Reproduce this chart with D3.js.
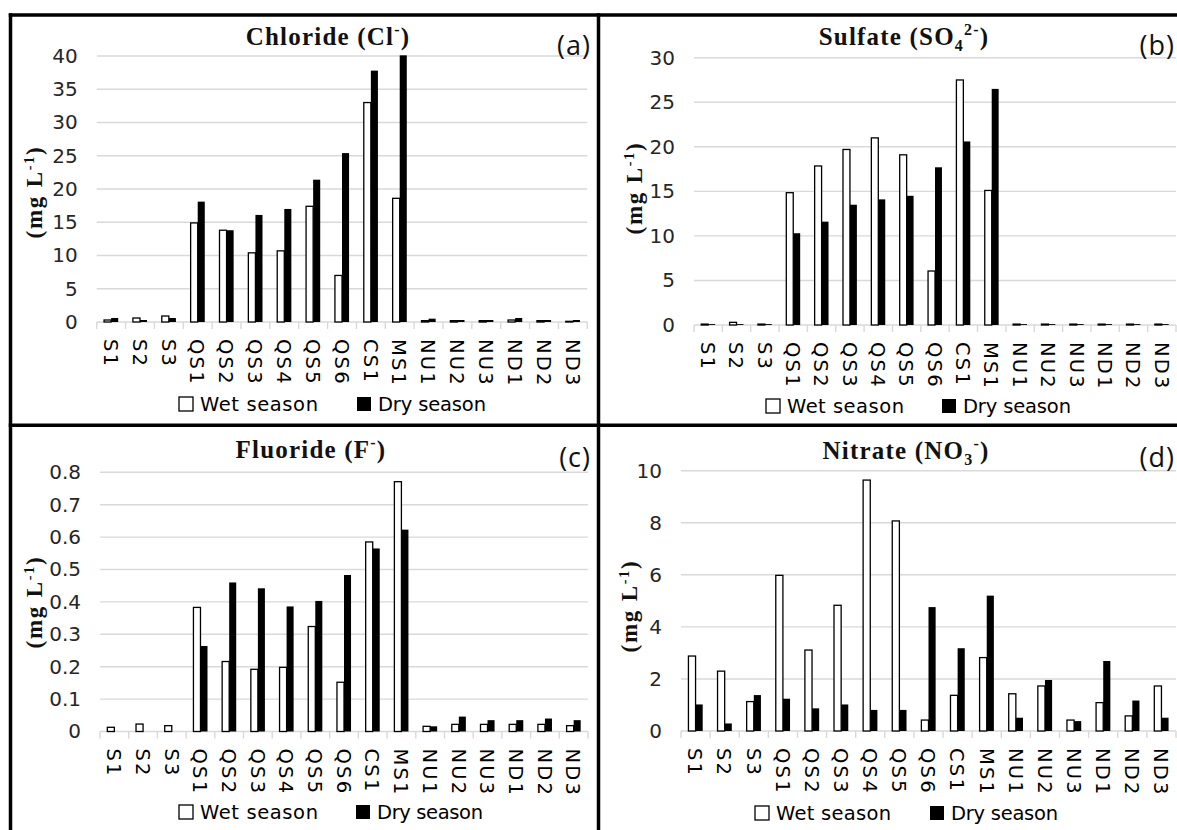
<!DOCTYPE html>
<html><head><meta charset="utf-8">
<script src="https://cdn.jsdelivr.net/npm/d3@7"></script>
<style>body{margin:0;background:#fff;} svg{display:block;}</style>
</head><body>
<svg id="chart" width="1177" height="830"></svg>
<script>
// ---------------- data ----------------
const categories = ["S1","S2","S3","QS1","QS2","QS3","QS4","QS5","QS6","CS1","MS1","NU1","NU2","NU3","ND1","ND2","ND3"];
const seasons = ["Wet season","Dry season"];

const chlorideWet = [0.3,0.6,0.9,14.9,13.8,10.4,10.7,17.4,7.0,33.0,18.6,0.2,0.2,0.2,0.3,0.2,0.1];
const chlorideDry = [0.6,0.3,0.6,18.1,13.8,16.1,17.0,21.4,25.4,37.8,40.1,0.5,0.3,0.3,0.6,0.3,0.3];

const sulfateWet = [0.1,0.3,0.1,14.85,17.85,19.7,21.0,19.1,6.06,27.5,15.1,0.1,0.1,0.1,0.1,0.1,0.1];
const sulfateDry = [0.1,0.1,0.1,10.3,11.6,13.5,14.1,14.5,17.7,20.6,26.5,0.1,0.1,0.1,0.1,0.1,0.1];

const fluorideWet = [0.013,0.023,0.018,0.383,0.216,0.192,0.198,0.324,0.152,0.585,0.771,0.016,0.022,0.022,0.022,0.022,0.018];
const fluorideDry = [0,0,0,0.264,0.46,0.442,0.386,0.403,0.483,0.565,0.623,0.016,0.046,0.035,0.035,0.04,0.035];

const nitrateWet = [2.88,2.30,1.13,5.98,3.11,4.83,9.64,8.07,0.42,1.37,2.82,1.43,1.73,0.42,1.09,0.58,1.73];
const nitrateDry = [1.02,0.29,1.38,1.24,0.87,1.02,0.81,0.81,4.76,3.18,5.20,0.51,1.96,0.38,2.69,1.17,0.51];

const chlorideTicks = [0,5,10,15,20,25,30,35,40];
const sulfateTicks = [0,5,10,15,20,25,30];
const fluorideTicks = [0,0.1,0.2,0.3,0.4,0.5,0.6,0.7,0.8];
const nitrateTicks = [0,2,4,6,8,10];

// ---------------- layout ----------------
const panels = [
  {letter:"(a)", wet:chlorideWet, dry:chlorideDry, ticks:chlorideTicks,
   title:[{t:"Chloride (Cl"},{t:"-",sup:true},{t:")"}],
   px0:96.7, px1:587.3, py0:322, pyTop:56, titleX:328, titleY:45, letterX:591, letterY:55,
   yTitleX:33.5, yTitleY:192, legY:404, wetBoxX:179, wetTextW:118, dryBoxX:357, dryTextW:108, fmt:d=>d},
  {letter:"(b)", wet:sulfateWet, dry:sulfateDry, ticks:sulfateTicks,
   title:[{t:"Sulfate (SO"},{t:"4",sub:true},{t:"2-",sup:true},{t:")"}],
   px0:694, px1:1176, py0:325, pyTop:57.7, titleX:904, titleY:45, letterX:1175, letterY:55,
   yTitleX:634, yTitleY:188, legY:406, wetBoxX:766, wetTextW:117, dryBoxX:942, dryTextW:108, fmt:d=>d},
  {letter:"(c)", wet:fluorideWet, dry:fluorideDry, ticks:fluorideTicks,
   title:[{t:"Fluoride (F"},{t:"-",sup:true},{t:")"}],
   px0:100, px1:588, py0:731.5, pyTop:472.3, titleX:311, titleY:458, letterX:591, letterY:467,
   yTitleX:33.5, yTitleY:602, legY:812, wetBoxX:179, wetTextW:118, dryBoxX:356, dryTextW:106, fmt:d=>d===0?"0":d.toFixed(1)},
  {letter:"(d)", wet:nitrateWet, dry:nitrateDry, ticks:nitrateTicks,
   title:[{t:"Nitrate (NO"},{t:"3",sub:true},{t:"-",sup:true},{t:")"}],
   px0:681, px1:1176, py0:731, pyTop:470.7, titleX:906, titleY:459, letterX:1175, letterY:467,
   yTitleX:629, yTitleY:606, legY:813, wetBoxX:755, wetTextW:115, dryBoxX:930, dryTextW:107, fmt:d=>d}
];

const svg = d3.select("#chart");
const gridColor = "#d9d9d9";
const tickFont = "'DejaVu Sans', sans-serif";
const serif = "'Liberation Serif', 'Times New Roman', serif";

panels.forEach(p => {
  const g = svg.append("g");
  const x = d3.scaleBand().domain(categories).range([p.px0, p.px1]).padding(0);
  const maxV = p.ticks[p.ticks.length-1];
  const y = d3.scaleLinear().domain([0, maxV]).range([p.py0, p.pyTop]);
  const bw = x.bandwidth();
  const barW = bw * 0.245;
  const sx = d3.scaleBand().domain(seasons).range([bw/2 - barW, bw/2 + barW]).padding(0);

  // gridlines
  g.append("g").selectAll("line").data(p.ticks).join("line")
    .attr("x1", p.px0).attr("x2", p.px1)
    .attr("y1", d => y(d)).attr("y2", d => y(d))
    .attr("stroke", gridColor).attr("stroke-width", 1.4);

  // category boundary ticks
  const bounds = categories.map(c => x(c)).concat([p.px1]);
  g.append("g").selectAll("line").data(bounds).join("line")
    .attr("x1", d => d).attr("x2", d => d)
    .attr("y1", y(0)).attr("y2", y(0) + 7)
    .attr("stroke", gridColor).attr("stroke-width", 1.4);

  // y axis labels
  const yAxis = d3.axisLeft(y).tickValues(p.ticks).tickSize(0).tickPadding(19).tickFormat(p.fmt);
  const ya = g.append("g").attr("transform", `translate(${p.px0},0)`).call(yAxis);
  ya.select(".domain").remove();
  ya.selectAll("text").attr("font-family", tickFont).attr("font-size", 20).attr("fill", "#262626");

  // bars
  const rows = categories.map((c,i) => ({c, wet:p.wet[i], dry:p.dry[i]}));
  const grp = g.append("g").selectAll("g").data(rows).join("g")
    .attr("transform", d => `translate(${x(d.c)},0)`);
  grp.append("rect")
    .attr("x", sx("Wet season")).attr("width", sx.bandwidth())
    .attr("y", d => y(d.wet)).attr("height", d => y(0) - y(d.wet))
    .attr("fill", "#fff").attr("stroke", "#000").attr("stroke-width", 1.3);
  grp.append("rect")
    .attr("x", sx("Dry season")).attr("width", sx.bandwidth())
    .attr("y", d => y(d.dry)).attr("height", d => y(0) - y(d.dry))
    .attr("fill", "#000");

  // category labels (rotated)
  g.append("g").selectAll("text").data(categories).join("text")
    .attr("transform", d => `translate(${x(d) + bw/2},${y(0) + 17}) rotate(90)`)
    .attr("dy", "0.37em")
    .attr("text-anchor", "start")
    .attr("font-family", tickFont).attr("font-size", 19.5)
    .attr("letter-spacing", 2.2)
    .attr("fill", "#000")
    .text(d => d);

  // title
  const tt = g.append("text")
    .attr("x", p.titleX).attr("y", p.titleY)
    .attr("text-anchor", "middle")
    .attr("font-family", serif).attr("font-weight", "bold").attr("font-size", 25)
    .attr("letter-spacing", 1.2).attr("fill", "#111");
  let shift = 0;
  p.title.forEach(part => {
    const ts = tt.append("tspan").text(part.t);
    let target = 0;
    if (part.sub) { target = 6; ts.attr("font-size", 16); }
    else if (part.sup) { target = -10; ts.attr("font-size", 16); }
    ts.attr("dy", target - shift);
    shift = target;
  });

  // panel letter
  g.append("text")
    .attr("x", p.letterX).attr("y", p.letterY)
    .attr("text-anchor", "end")
    .attr("font-family", "'Open Sans', sans-serif").attr("font-size", 27)
    .attr("letter-spacing", 1).attr("fill", "#111")
    .text(p.letter);

  // y title
  const yt = g.append("text")
    .attr("transform", `translate(${p.yTitleX},${p.yTitleY}) rotate(-90)`)
    .attr("dy", "0.35em")
    .attr("text-anchor", "middle")
    .attr("font-family", serif).attr("font-weight", "bold").attr("font-size", 23)
    .attr("letter-spacing", 1.8).attr("fill", "#111");
  yt.append("tspan").text("(mg L");
  yt.append("tspan").text("-1").attr("font-size", 14).attr("dy", -8);
  yt.append("tspan").text(")").attr("dy", 8);

  // legend
  const leg = g.append("g");
  const boxS = 14;
  leg.append("rect").attr("x", p.wetBoxX).attr("y", p.legY - boxS/2).attr("width", boxS).attr("height", boxS)
    .attr("fill", "#fff").attr("stroke", "#000").attr("stroke-width", 1.3);
  leg.append("text").attr("x", p.wetBoxX + boxS + 7).attr("y", p.legY).attr("dy", "0.37em")
    .attr("font-family", tickFont).attr("font-size", 19.5).attr("fill", "#000")
    .attr("textLength", p.wetTextW).attr("lengthAdjust", "spacing")
    .text(seasons[0]);
  leg.append("rect").attr("x", p.dryBoxX).attr("y", p.legY - boxS/2).attr("width", boxS).attr("height", boxS)
    .attr("fill", "#000");
  leg.append("text").attr("x", p.dryBoxX + boxS + 7).attr("y", p.legY).attr("dy", "0.37em")
    .attr("font-family", tickFont).attr("font-size", 19.5).attr("fill", "#000")
    .attr("textLength", p.dryTextW).attr("lengthAdjust", "spacing")
    .text(seasons[1]);
});

// frame lines
const frame = svg.append("g").attr("stroke", "#000").attr("stroke-width", 3.5);
frame.append("line").attr("x1", 8.75).attr("x2", 1177).attr("y1", 15).attr("y2", 15);
frame.append("line").attr("x1", 10.5).attr("x2", 10.5).attr("y1", 13.25).attr("y2", 830);
frame.append("line").attr("x1", 598.5).attr("x2", 598.5).attr("y1", 13.25).attr("y2", 830);
frame.append("line").attr("x1", 8.75).attr("x2", 1177).attr("y1", 425.3).attr("y2", 425.3);
</script>
</body></html>
